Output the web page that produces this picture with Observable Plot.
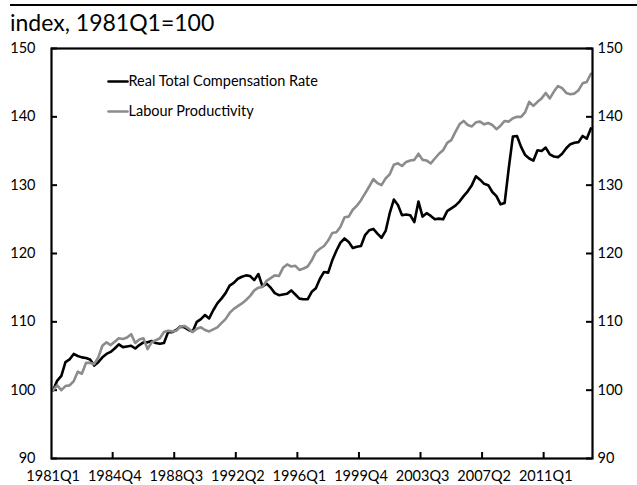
<!DOCTYPE html>
<html>
<head>
<meta charset="utf-8">
<script src="https://cdn.jsdelivr.net/npm/d3@7"></script>
<script src="https://cdn.jsdelivr.net/npm/@observablehq/plot@0.6"></script>
<style>
  body { margin: 0; background: #fff; font-family: Lato, sans-serif; }
  #head { position: relative; width: 637px; height: 32px; }
  #rule { position: absolute; top: 4px; left: 10px; right: 0; height: 2px; background: #000; }
  #title { position: absolute; top: 11px; left: 10px; font-size: 23px; line-height: 1; color: #000; white-space: nowrap; }
</style>
</head>
<body>
<div id="head"><div id="rule"></div><div id="title">index, 1981Q1=100</div></div>
<div id="chart"></div>
<script>
// Quarterly series, 1981Q1 .. 2013Q4 (132 quarters)
const compensation = [
  100.0, 101.4, 102.1, 104.1, 104.5, 105.3, 105.0, 104.8, 104.7, 104.5,
  103.6, 104.1, 104.8, 105.3, 105.6, 106.1, 106.7, 106.3, 106.4, 106.5,
  106.1, 106.6, 107.0, 107.0, 107.2, 106.9, 106.8, 106.9, 108.5, 108.5,
  108.8, 109.3, 109.2, 108.8, 108.6, 110.0, 110.4, 111.0, 110.5, 111.7,
  112.7, 113.4, 114.2, 115.3, 115.7, 116.3, 116.6, 116.8, 116.7, 116.1,
  117.0, 115.2, 115.6, 115.0, 114.2, 113.9, 114.0, 114.1, 114.6, 114.0,
  113.4, 113.3, 113.3, 114.4, 114.9, 116.3, 117.3, 117.2, 119.0, 120.4,
  121.6, 122.2, 121.7, 120.8, 121.0, 121.1, 122.7, 123.4, 123.6, 122.9,
  122.3, 123.3, 125.9, 127.9, 127.1, 125.6, 125.7, 125.6, 124.6, 127.6,
  125.4, 125.9, 125.5, 125.0, 125.1, 125.0, 126.2, 126.6, 127.0, 127.6,
  128.4, 129.1, 130.0, 131.3, 130.8, 130.2, 130.0, 129.0, 128.4, 127.2,
  127.4, 132.5, 137.1, 137.2, 135.6, 134.4, 133.9, 133.6, 135.1, 135.0,
  135.5, 134.5, 134.2, 134.1, 134.6, 135.4, 136.0, 136.2, 136.3, 137.2,
  136.8, 138.3
];
const productivity = [
  100.0, 100.7, 100.0, 100.6, 100.7, 101.3, 102.7, 102.4, 104.0, 104.0,
  103.8, 104.8, 106.5, 107.0, 106.6, 107.1, 107.6, 107.5, 107.7, 108.2,
  106.9, 107.4, 107.6, 106.0, 107.0, 107.3, 107.6, 108.5, 108.7, 108.6,
  108.7, 109.3, 109.4, 109.0, 108.5, 109.0, 109.2, 108.8, 108.6, 108.9,
  109.2, 109.8, 110.4, 111.3, 111.9, 112.3, 112.7, 113.2, 113.8, 114.6,
  115.0, 115.1, 116.0, 116.4, 116.8, 116.7, 117.9, 118.4, 118.1, 118.2,
  117.6, 117.8, 118.1, 119.0, 120.2, 120.7, 121.1, 121.9, 123.0, 123.1,
  123.9, 125.3, 125.4, 126.4, 127.0, 127.8, 128.8, 129.8, 130.9, 130.3,
  130.0, 131.0, 131.6, 133.0, 133.2, 132.8, 133.4, 133.6, 133.7, 134.6,
  133.7, 133.6, 133.2, 133.9, 134.6, 135.1, 136.2, 136.6, 137.8, 138.9,
  139.4, 138.8, 138.6, 139.2, 139.3, 138.9, 139.1, 138.8, 138.2, 138.7,
  139.4, 139.3, 139.8, 140.0, 140.0, 140.7, 142.2, 141.6, 142.2, 142.7,
  143.5, 142.7, 143.7, 144.5, 144.2, 143.5, 143.3, 143.4, 143.9, 144.9,
  145.1, 146.3
];
const seriesNames = ["Real Total Compensation Rate", "Labour Productivity"];
const seriesColors = ["#000000", "#8c8c8c"];
const tickLabels = ["1981Q1", "1984Q4", "1988Q3", "1992Q2", "1996Q1", "1999Q4", "2003Q3", "2007Q2", "2011Q1"];
const tickIndex = [0, 15, 30, 45, 60, 75, 90, 105, 120];
const yTicks = [90, 100, 110, 120, 130, 140, 150];

const boundaryTicks = tickIndex.slice(1).map(d => d - 0.5);
const fs = 14.5;
const W = 637, H = 453, mT = 16, mB = 27, mL = 51, mR = 45;
const innerW = W - mL - mR, innerH = H - mT - mB, tickLen = 6;
const seg = { draw(ctx, l) { ctx.moveTo(0, 0); ctx.lineTo(0, -l); } };

const legendMarks = seriesNames.flatMap((name, i) => [
  Plot.vector([name], { frameAnchor: "top-left", dx: 57, dy: 33 + 30 * i, length: 19, rotate: 90, anchor: "start",
    shape: seg, stroke: seriesColors[i], strokeWidth: 2.6 }),
  Plot.text([name], { frameAnchor: "top-left", dx: 77, dy: 33 + 30 * i, text: d => d, textAnchor: "start",
    lineAnchor: "middle", fill: "#000", fontSize: 14.5 })
]);

const chart = Plot.plot({
  width: W,
  height: H,
  marginTop: mT,
  marginBottom: mB,
  marginLeft: mL,
  marginRight: mR,
  style: { fontFamily: "Lato, sans-serif", fontSize: fs + "px", color: "#000", background: "#fff" },
  x: { domain: [-0.4, compensation.length - 0.6] },
  y: { domain: [90, 150] },
  marks: [
    Plot.axisY({ anchor: "left", ticks: yTicks, tickSize: 0, tickPadding: 16, label: null, fontSize: fs }),
    Plot.axisY({ anchor: "right", ticks: yTicks, tickSize: 0, tickPadding: 5, label: null, fontSize: fs }),
    Plot.axisX({ anchor: "bottom", ticks: tickIndex, tickSize: 0, tickPadding: 12, tickFormat: d => tickLabels[tickIndex.indexOf(d)], label: null, fontSize: fs }),
    Plot.ruleY(yTicks, { y: d => d, insetRight: innerW - tickLen, stroke: "#000", strokeWidth: 2 }),
    Plot.ruleY(yTicks, { y: d => d, insetLeft: innerW - tickLen, stroke: "#000", strokeWidth: 2 }),
    Plot.ruleX(boundaryTicks, { x: d => d, insetTop: innerH - tickLen, stroke: "#000", strokeWidth: 2 }),
    Plot.lineY(compensation, { stroke: seriesColors[0], strokeWidth: 2.6, strokeLinejoin: "round" }),
    Plot.lineY(productivity, { stroke: seriesColors[1], strokeWidth: 2.6, strokeLinejoin: "round" }),
    Plot.frame({ stroke: "#000", strokeWidth: 2.2 }),
    ...legendMarks
  ]
});
document.getElementById("chart").appendChild(chart);
</script>
</body>
</html>
